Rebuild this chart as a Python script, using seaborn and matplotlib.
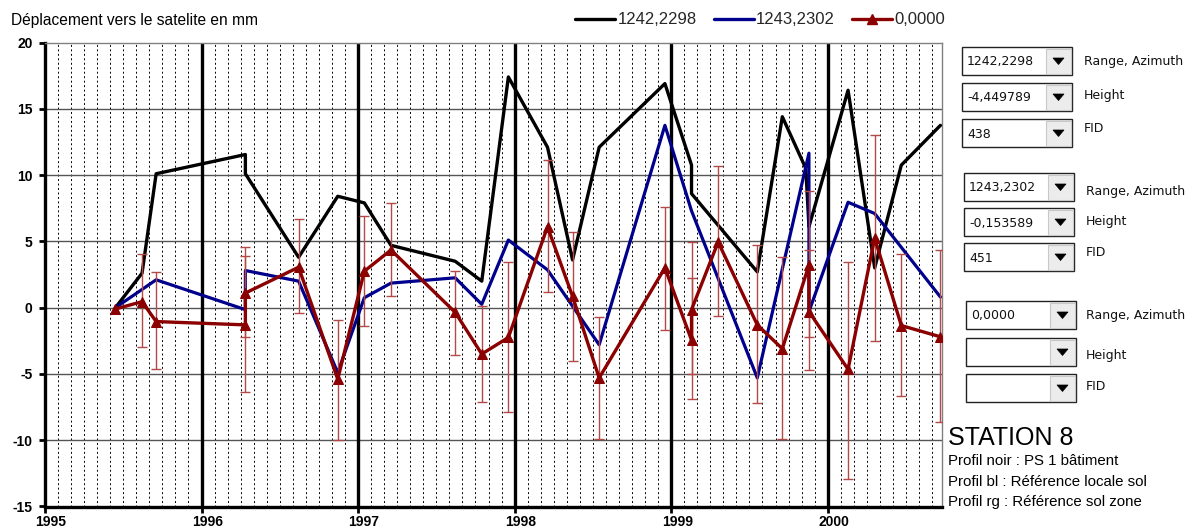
import matplotlib
matplotlib.use("Agg")
import matplotlib.pyplot as plt
import matplotlib.transforms as mtransforms
from matplotlib.patches import Rectangle, Polygon
from matplotlib.lines import Line2D
from matplotlib.ticker import MultipleLocator, FixedLocator
import seaborn as sns
import pandas as pd
import numpy as np

# ---------------- data ----------------
title = "Déplacement vers le satelite en mm"
series_names = ["1242,2298", "1243,2302", "0,0000"]

black_t = [1995.45, 1995.62, 1995.71, 1996.28, 1996.28, 1996.62, 1996.87, 1997.04,
           1997.21, 1997.62, 1997.79, 1997.96, 1998.21, 1998.37, 1998.54, 1998.96,
           1999.13, 1999.13, 1999.55, 1999.71, 1999.86, 1999.88, 2000.13, 2000.30,
           2000.47, 2000.72]
black_v = [0.0, 2.6, 10.1, 11.55, 10.1, 3.8, 8.4, 7.9,
           4.7, 3.5, 2.0, 17.4, 12.1, 3.6, 12.1, 16.9,
           10.75, 8.6, 2.7, 14.4, 10.5, 6.1, 16.4, 3.0,
           10.75, 13.75]

blue_t = [1995.45, 1995.71, 1996.28, 1996.28, 1996.62, 1996.87, 1997.04, 1997.21,
          1997.62, 1997.79, 1997.96, 1998.21, 1998.54, 1998.96, 1999.13, 1999.55,
          1999.88, 1999.88, 2000.13, 2000.30, 2000.72]
blue_v = [0.0, 2.1, -0.15, 2.8, 2.0, -4.9, 0.75, 1.85,
          2.25, 0.25, 5.1, 2.85, -2.8, 13.75, 7.3, -5.3,
          11.65, -0.3, 7.95, 7.1, 0.8]

red_t = [1995.45, 1995.62, 1995.71, 1996.28, 1996.28, 1996.62, 1996.87, 1997.04,
         1997.21, 1997.62, 1997.79, 1997.96, 1998.21, 1998.37, 1998.54, 1998.96,
         1999.13, 1999.13, 1999.30, 1999.55, 1999.71, 1999.88, 1999.88, 2000.13,
         2000.30, 2000.47, 2000.72]
red_v = [-0.1, 0.45, -1.05, -1.3, 1.1, 3.05, -5.4, 2.75,
         4.35, -0.35, -3.5, -2.25, 6.1, 0.85, -5.3, 3.0,
         -2.45, -0.15, 4.95, -1.3, -3.1, 3.2, -0.3, -4.65,
         5.25, -1.35, -2.2]
red_err_top = [None, 4.05, 2.7, 3.9, 4.6, 6.65, -0.9, 6.9,
               7.9, 2.8, 0.15, 3.45, 11.1, 5.7, -0.7, 7.6,
               2.2, 4.95, 10.65, 4.75, 3.85, 8.8, 4.35, 3.45,
               13.0, 4.05, 4.35]
red_err_bottom = [None, -3.0, -4.6, -6.4, -2.25, -0.4, -10.0, -1.35,
                  0.9, -3.6, -7.15, -7.9, 1.2, -4.0, -9.9, -1.65,
                  -6.9, -5.0, -0.6, -7.2, -9.9, -2.25, -4.7, -12.9,
                  -2.5, -6.7, -8.65]

year_ticks = [1995, 1996, 1997, 1998, 1999, 2000]
y_ticks = [-15, -10, -5, 0, 5, 10, 15, 20]

combo_values = [["1242,2298", "-4,449789", "438"],
                ["1243,2302", "-0,153589", "451"],
                ["0,0000", "", ""]]
combo_labels = ["Range, Azimuth", "Height", "FID"]
station_title = "STATION 8"
station_notes = ["Profil noir : PS 1 bâtiment",
                 "Profil bl : Référence locale sol",
                 "Profil rg : Référence sol zone"]

# ---------------- style ----------------
sns.set_theme(style="white")
plt.rcParams["font.family"] = ["Liberation Sans", "DejaVu Sans"]

W, H = 1189, 532
fig = plt.figure(figsize=(W / 100, H / 100), dpi=100)
fig.patch.set_facecolor("white")

ax_l, ax_r, ax_t, ax_b = 45, 942, 42.5, 506.5
ax = fig.add_axes([ax_l / W, 1 - ax_b / H, (ax_r - ax_l) / W, (ax_b - ax_t) / H])
ax.set_facecolor("white")

BLACK = "#000000"
BLUE = "#00008c"
RED = "#8b0000"
ERR = "#b24a48"

df_black = pd.DataFrame({"t": black_t, "v": black_v})
df_blue = pd.DataFrame({"t": blue_t, "v": blue_v})
df_red = pd.DataFrame({"t": red_t, "v": red_v,
                       "top": [np.nan if x is None else x for x in red_err_top],
                       "bot": [np.nan if x is None else x for x in red_err_bottom]})

sns.lineplot(data=df_black, x="t", y="v", sort=False, estimator=None, ax=ax,
             color=BLACK, linewidth=2.4, zorder=4)
sns.lineplot(data=df_blue, x="t", y="v", sort=False, estimator=None, ax=ax,
             color=BLUE, linewidth=2.3, zorder=5)

m = df_red["top"].notna()
ax.errorbar(df_red.loc[m, "t"], df_red.loc[m, "v"],
            yerr=[df_red.loc[m, "v"] - df_red.loc[m, "bot"], df_red.loc[m, "top"] - df_red.loc[m, "v"]],
            fmt="none", ecolor=ERR, elinewidth=1.0, capsize=3.5, capthick=1.0, zorder=5.5)
sns.lineplot(data=df_red, x="t", y="v", sort=False, estimator=None, ax=ax,
             color=RED, linewidth=2.4, marker="^", markersize=6.5,
             markeredgecolor=RED, markerfacecolor=RED, zorder=6)

ax.set_xlim(1995, 2000.73)
ax.set_ylim(-15, 20)
ax.set_xlabel("")
ax.set_ylabel("")

ax.xaxis.set_major_locator(FixedLocator(year_ticks))
ax.xaxis.set_minor_locator(MultipleLocator(1 / 12))
ax.yaxis.set_major_locator(FixedLocator(y_ticks))
ax.set_xticklabels([str(y) for y in year_ticks])
ax.set_yticklabels([str(y) for y in y_ticks])

ax.grid(False)
# monthly dotted lines
for k in range(1, 69):
    xv = 1995 + k / 12
    if xv >= 2000.73:
        break
    if k % 12 == 0:
        continue
    ax.axvline(xv, color="black", linewidth=0.7, linestyle=(0, (2.0, 2.6)), zorder=1)
for yv in year_ticks[1:]:
    ax.axvline(yv, color="black", linewidth=2.4, zorder=2)
for yv in y_ticks[1:-1]:
    ax.axhline(yv, color="#555555", linewidth=1.0, zorder=1.5)

for s in ["left", "bottom"]:
    ax.spines[s].set_color("black")
    ax.spines[s].set_linewidth(2.4)
for s in ["top", "right"]:
    ax.spines[s].set_color("#808080")
    ax.spines[s].set_linewidth(1.0)

ax.tick_params(axis="x", which="major", bottom=True, length=4, width=2, color="black",
               pad=2, labelsize=10)
ax.tick_params(axis="x", which="minor", bottom=False)
ax.tick_params(axis="y", which="major", left=True, length=4, width=2, color="black",
               pad=5, labelsize=10)
for lab in ax.get_xticklabels() + ax.get_yticklabels():
    lab.set_fontweight("bold")
    lab.set_color("black")
offset = mtransforms.ScaledTranslation(6 / 100, 0, fig.dpi_scale_trans)
for lab in ax.get_xticklabels():
    lab.set_transform(lab.get_transform() + offset)

# title
fig.text(11 / W, 1 - 20 / H, title, fontsize=11.2, ha="left", va="center", color="black")

# legend
handles = [Line2D([], [], color=BLACK, lw=2.4),
           Line2D([], [], color=BLUE, lw=2.4),
           Line2D([], [], color=RED, lw=2.4, marker="^", markersize=6.5)]
fig.legend(handles, series_names, loc="center right", bbox_to_anchor=(945 / W, 1 - 20 / H),
           ncol=3, frameon=False, fontsize=12, handlelength=2.4, handletextpad=0.15,
           columnspacing=1.0, borderpad=0, borderaxespad=0)

# ---------------- right panel (combo boxes) ----------------
ov = fig.add_axes([0, 0, 1, 1], zorder=10)
ov.set_xlim(0, W)
ov.set_ylim(H, 0)
ov.axis("off")

box_x = [962, 964, 966]
box_tops = [[47, 83, 119], [173, 208, 243], [301, 338, 374]]
label_y = [[62, 95, 129], [192, 222, 252], [315, 355, 386]]
label_x = [1084, 1086, 1086]
bw, bh, btn = 110, 28, 26
for g in range(3):
    for r in range(3):
        x0, y0 = box_x[g], box_tops[g][r]
        ov.add_patch(Rectangle((x0, y0), bw, bh, facecolor="white", edgecolor="#222222", lw=1.0))
        ov.add_patch(Rectangle((x0 + bw - btn, y0 + 1.5), btn - 1.5, bh - 3, facecolor="#ececec",
                               edgecolor="#c8c8c8", lw=0.8))
        cx, cy = x0 + bw - btn / 2 - 0.5, y0 + bh / 2
        ov.add_patch(Polygon([[cx - 5.5, cy - 3], [cx + 5.5, cy - 3], [cx, cy + 3.5]],
                             closed=True, facecolor="black", edgecolor="black", lw=0.5))
        if combo_values[g][r]:
            ov.text(x0 + 5, cy + 1, combo_values[g][r], fontsize=9, ha="left", va="center",
                    family=["DejaVu Sans"], color="#111111")
        ov.text(label_x[g], label_y[g][r], combo_labels[r], fontsize=9, ha="left", va="center",
                family=["DejaVu Sans"], color="#111111")

ov.text(948, 438, station_title, fontsize=18, ha="left", va="center", color="black")
for i, note in enumerate(station_notes):
    ov.text(948, 461 + 20.5 * i, note, fontsize=10.8, ha="left", va="center", color="black")

fig.savefig("out.png", dpi=100, facecolor="white")
